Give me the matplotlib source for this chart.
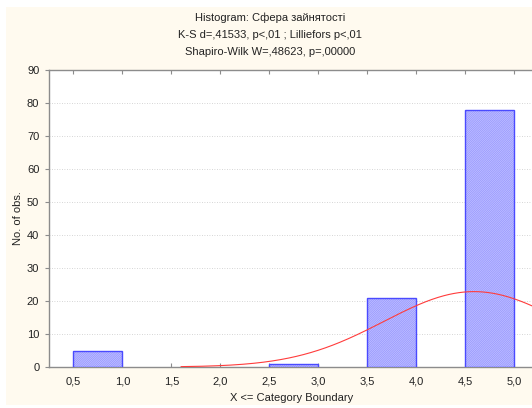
import numpy as np
import matplotlib
matplotlib.use("Agg")
import matplotlib.pyplot as plt
from matplotlib.patches import Rectangle

plt.rcParams['font.family'] = ['Liberation Sans', 'DejaVu Sans']
plt.rcParams['font.size'] = 8
plt.rcParams['hatch.linewidth'] = 0.45

# category boundaries (upper) and counts
bin_lo = [0.5, 1.5, 2.5, 3.5, 4.5]
bin_hi = [1.0, 2.0, 3.0, 4.0, 5.0]
counts = [5, 0, 1, 21, 78]
values = [1, 2, 3, 4, 5]   # category codes behind the counts
xticks = [0.5, 1.0, 1.5, 2.0, 2.5, 3.0, 3.5, 4.0, 4.5, 5.0]

fig = plt.figure(figsize=(5.32, 4.08), dpi=100)
fig.patch.set_facecolor('white')
fig.patches.append(Rectangle((6 / 532, 3 / 408), 1, 1 - 10 / 408,
                             transform=fig.transFigure, facecolor='#fffaef',
                             edgecolor='none', zorder=-1))

ax = fig.add_axes([49 / 532, 41 / 408, 489.5 / 532, 297 / 408])
ax.set_facecolor('white')

for lo, hi, c in zip(bin_lo, bin_hi, counts):
    if c > 0:
        # fill with fine hatch, then the blue outline on top
        ax.bar(lo, c, width=hi - lo, align='edge', facecolor='#cacaff',
               edgecolor='#8c8cff', hatch='/' * 18, linewidth=0, zorder=3)
        ax.bar(lo, c, width=hi - lo, align='edge', facecolor='none',
               edgecolor='#4a4aff', linewidth=1.0, zorder=3.5)

# fitted normal curve
n = sum(counts)
mu = np.dot(counts, values) / n
sd = np.sqrt((np.dot(counts, np.square(values)) - n * mu ** 2) / (n - 1))
bw = 0.5
xs = np.linspace(1.6, 5.3, 300)
ys = n * bw / (sd * np.sqrt(2 * np.pi)) * np.exp(-(xs - mu) ** 2 / (2 * sd ** 2))
ax.plot(xs, ys, color='#ff3c3c', linewidth=0.8, zorder=4)

ax.set_xlim(0.25, 5.25)
ax.set_ylim(0, 90)
ax.set_yticks(range(0, 91, 10))
ax.set_xticks(xticks)
ax.set_xticklabels([f"{t:.1f}".replace('.', ',') for t in xticks])
ax.yaxis.grid(True, linestyle=(0, (1, 2)), color='#c8c8c8', linewidth=0.6)
ax.set_axisbelow(True)

for s in ['left', 'bottom', 'top']:
    ax.spines[s].set_color('#8c8c8c')
    ax.spines[s].set_linewidth(1.0)
ax.spines['right'].set_visible(False)
ax.tick_params(axis='x', direction='in', top=True, length=3, color='#8c8c8c',
               pad=7, labelcolor='#222222')
ax.tick_params(axis='y', direction='out', length=3, color='#8c8c8c',
               pad=4, labelcolor='#222222')

fig.text(270 / 532, 1 - 18 / 408, "Histogram: Сфера зайнятості",
         ha='center', va='center', color='#222222')
fig.text(270 / 532, 1 - 35 / 408, "K-S d=,41533, p<,01 ; Lilliefors p<,01",
         ha='center', va='center', color='#222222')
fig.text(270 / 532, 1 - 52 / 408, "Shapiro-Wilk W=,48623, p=,00000",
         ha='center', va='center', color='#222222')
fig.text(292 / 532, 1 - 398 / 408, "X <= Category Boundary",
         ha='center', va='center', color='#222222')
fig.text(18 / 532, 1 - 218 / 408, "No. of obs.", rotation=90,
         ha='center', va='center', color='#222222')

fig.savefig('out.png', dpi=100, facecolor=fig.get_facecolor())
